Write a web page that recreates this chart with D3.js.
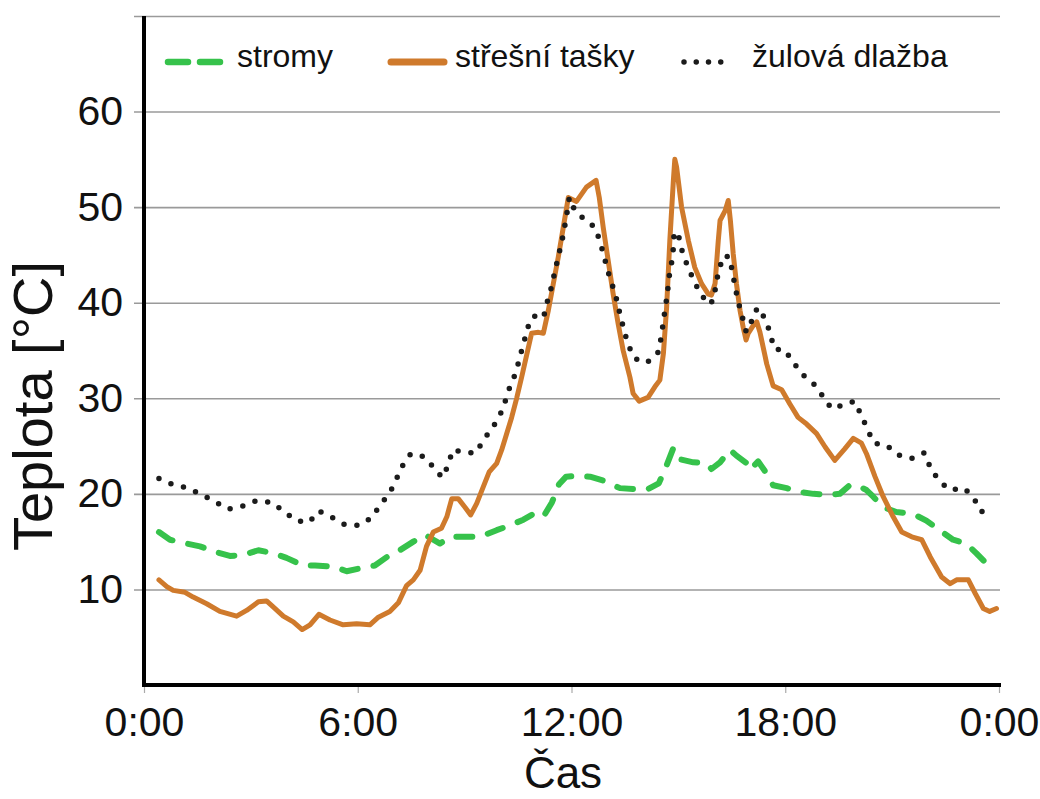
<!DOCTYPE html>
<html>
<head>
<meta charset="utf-8">
<script src="https://cdn.jsdelivr.net/npm/d3@7"></script>
<style>
    body { margin: 0; background: #fff; }
    svg { display: block; font-family: "Liberation Sans", Arial, sans-serif; }
</style>
</head>
<body>
<div id="chart"></div>
<script>
// data: [hodina, teplota]
const stromy = [
    [0.42, 16.0], [0.73, 15.2], [1.20, 14.8], [1.57, 14.5], [2.04, 13.9], [2.41, 13.5], [2.79, 13.6],
    [3.21, 14.1], [3.63, 13.8], [4.00, 13.3], [4.47, 12.5], [4.80, 12.5], [5.31, 12.4], [5.69, 11.9],
    [6.06, 12.2], [6.48, 12.5], [6.86, 13.5], [7.18, 14.1], [7.56, 15.0], [7.89, 15.7], [8.31, 14.8],
    [8.59, 15.5], [9.06, 15.5], [9.43, 15.5], [9.90, 16.2], [10.27, 16.7], [10.65, 17.3], [10.93, 17.9],
    [11.21, 17.6], [11.45, 19.1], [11.65, 21.0], [11.85, 21.8], [12.14, 21.9], [12.52, 21.8], [12.89, 21.4],
    [13.36, 20.6], [13.73, 20.5], [14.15, 20.5], [14.45, 21.1], [14.65, 22.8], [14.86, 24.8], [15.06, 23.6],
    [15.42, 23.3], [15.79, 23.2], [15.93, 22.6], [16.17, 23.3], [16.45, 24.6], [16.63, 24.0], [16.92, 23.2],
    [17.01, 22.5], [17.24, 23.4], [17.48, 22.1], [17.66, 20.9], [18.04, 20.6], [18.41, 20.2], [18.79, 20.0],
    [19.16, 19.9], [19.53, 20.0], [19.81, 20.9], [20.00, 20.9], [20.28, 20.4], [20.47, 19.7], [20.75, 18.6],
    [21.12, 18.1], [21.59, 17.9], [21.96, 17.2], [22.33, 16.2], [22.71, 15.2], [23.08, 14.8], [23.36, 13.8],
    [23.65, 12.7], [23.74, 12.4]
];

const stresniTasky = [
    [0.42, 11.0], [0.64, 10.3], [0.82, 9.9], [1.15, 9.7], [1.38, 9.2], [1.76, 8.5], [2.13, 7.7], [2.60, 7.2],
    [2.88, 7.8], [3.21, 8.7], [3.44, 8.8], [3.68, 8.0], [3.91, 7.2], [4.19, 6.6], [4.44, 5.8], [4.66, 6.3],
    [4.91, 7.4], [5.22, 6.8], [5.59, 6.3], [5.97, 6.4], [6.34, 6.3], [6.58, 7.1], [6.90, 7.7], [7.14, 8.6],
    [7.37, 10.4], [7.56, 11.0], [7.75, 12.0], [7.93, 14.5], [8.12, 16.0], [8.35, 16.4], [8.50, 17.6],
    [8.64, 19.5], [8.82, 19.5], [9.01, 18.6], [9.17, 17.8], [9.34, 19.0], [9.52, 20.7], [9.69, 22.3],
    [9.90, 23.2], [10.04, 24.6], [10.18, 26.3], [10.32, 28.0], [10.46, 30.0], [10.60, 32.2], [10.74, 34.5],
    [10.88, 36.8], [11.07, 36.9], [11.21, 36.8], [11.35, 39.2], [11.49, 42.0], [11.63, 44.8], [11.77, 47.9],
    [11.91, 51.0], [12.14, 50.6], [12.42, 52.1], [12.69, 52.8], [12.78, 51.0], [12.89, 47.9], [13.03, 44.4],
    [13.17, 40.9], [13.31, 37.8], [13.45, 35.0], [13.64, 32.2], [13.73, 30.5], [13.90, 29.7], [14.15, 30.1],
    [14.34, 31.2], [14.48, 31.9], [14.58, 34.7], [14.67, 39.5], [14.76, 46.5], [14.86, 52.8], [14.90, 55.0],
    [14.95, 54.2], [15.09, 50.0], [15.28, 46.5], [15.46, 43.7], [15.65, 42.0], [15.84, 40.9], [15.93, 40.8],
    [16.03, 42.0], [16.12, 46.5], [16.17, 48.6], [16.31, 49.6], [16.40, 50.7], [16.46, 48.6], [16.54, 45.1],
    [16.63, 42.0], [16.73, 39.2], [16.82, 37.4], [16.90, 36.1], [16.96, 36.8], [17.10, 37.6], [17.20, 38.0],
    [17.29, 36.9], [17.48, 33.6], [17.66, 31.3], [17.90, 30.9], [18.13, 29.4], [18.36, 28.0], [18.60, 27.3],
    [18.88, 26.3], [19.12, 24.9], [19.39, 23.5], [19.67, 24.7], [19.91, 25.8], [20.14, 25.3], [20.28, 24.2],
    [20.52, 21.8], [20.75, 19.7], [21.03, 17.6], [21.27, 16.0], [21.55, 15.5], [21.83, 15.2], [22.07, 13.4],
    [22.39, 11.3], [22.63, 10.6], [22.81, 11.0], [23.14, 11.0], [23.33, 9.6], [23.56, 8.0], [23.74, 7.7],
    [23.93, 8.0]
];

const zulovaDlazba = [
    [0.42, 21.6], [0.80, 21.0], [1.23, 20.6], [1.62, 19.9], [1.99, 19.2], [2.36, 18.4], [2.76, 18.7],
    [3.17, 19.3], [3.59, 19.1], [3.91, 18.2], [4.27, 17.2], [4.63, 17.0], [4.91, 18.2], [5.25, 17.6],
    [5.63, 16.8], [6.04, 16.7], [6.39, 17.5], [6.64, 18.9], [6.90, 20.1], [7.09, 21.6], [7.28, 23.1],
    [7.49, 24.2], [7.86, 23.9], [8.10, 22.9], [8.37, 21.7], [8.54, 23.0], [8.66, 24.6], [9.03, 24.3],
    [9.32, 24.3], [9.54, 25.7], [9.78, 26.9], [9.99, 28.2], [10.14, 29.7], [10.27, 31.2], [10.44, 32.7],
    [10.55, 34.3], [10.66, 35.8], [10.77, 37.4], [10.93, 38.6], [11.21, 38.4], [11.32, 40.1], [11.42, 41.4],
    [11.53, 43.2], [11.62, 44.7], [11.73, 46.4], [11.84, 48.6], [11.94, 51.0], [12.10, 49.6], [12.43, 48.5],
    [12.66, 47.9], [12.80, 46.4], [12.91, 44.9], [13.02, 43.3], [13.15, 41.8], [13.27, 40.3], [13.36, 38.8],
    [13.47, 37.2], [13.58, 35.7], [13.76, 34.2], [14.11, 33.7], [14.42, 34.7], [14.52, 36.4], [14.57, 37.8],
    [14.63, 39.4], [14.69, 40.9], [14.74, 42.7], [14.81, 44.2], [14.86, 45.7], [14.88, 47.4], [15.00, 47.1],
    [15.09, 45.6], [15.23, 44.1], [15.40, 42.6], [15.58, 41.2], [15.84, 39.8], [16.00, 40.3], [16.05, 41.9],
    [16.14, 43.4], [16.26, 44.9], [16.43, 44.8], [16.52, 43.2], [16.59, 41.7], [16.68, 40.1], [16.79, 38.6],
    [16.90, 37.0], [16.99, 37.1], [17.10, 38.8], [17.24, 39.5], [17.48, 38.0], [17.59, 36.5], [17.71, 35.1],
    [17.98, 35.1], [18.22, 33.8], [18.48, 32.5], [18.80, 31.5], [19.06, 30.2], [19.30, 28.9], [19.55, 29.2],
    [19.94, 29.7], [20.14, 28.2], [20.30, 26.8], [20.49, 25.3], [20.84, 25.1], [21.15, 24.1], [21.55, 23.7],
    [21.90, 24.3], [22.08, 22.7], [22.31, 21.4], [22.62, 20.4], [23.02, 20.6], [23.29, 19.6], [23.48, 18.2],
    [23.81, 17.8]
];

const xTicks = [0, 6, 12, 18, 24];
const xTickLabels = ['0:00', '6:00', '12:00', '18:00', '0:00'];
const yTicks = [10, 20, 30, 40, 50, 60, 70];
const legendLabels = ['stromy', 'střešní tašky', 'žulová dlažba'];

const draw = () => {
    // dimensions
    const dimensions = {
        width: 1040,
        height: 799,
        margin: {
            top: 16,
            bottom: 114,
            left: 144,
            right: 41,
        }
    }

    dimensions.containerWidth = dimensions.width - dimensions.margin.left - dimensions.margin.right;
    dimensions.containerHeight = dimensions.height - dimensions.margin.top - dimensions.margin.bottom;

    const svg = d3.select('#chart')
        .append('svg')
        .attr('width', dimensions.width)
        .attr('height', dimensions.height);

    const container = svg.append('g')
        .attr('transform', `translate(${dimensions.margin.left}, ${dimensions.margin.top})`);

    // scales
    const xScale = d3.scaleLinear()
        .domain([0, 24])
        .range([0, dimensions.containerWidth]);

    const yScale = d3.scaleLinear()
        .domain([0, 70])
        .range([dimensions.containerHeight, 0]);

    // gridlines + y labels
    const yAxis = d3.axisLeft(yScale)
        .tickValues(yTicks)
        .tickSize(-(dimensions.containerWidth + 11))
        .tickPadding(11)
        .tickFormat(d => d === 70 ? '' : d);

    const yAxisGroup = container.append('g')
        .attr('transform', 'translate(-10, 0)')
        .call(yAxis);

    yAxisGroup.select('.domain').remove();
    yAxisGroup.selectAll('line')
        .attr('stroke', '#9a9a9a')
        .attr('stroke-width', 1.6);
    yAxisGroup.selectAll('text')
        .attr('font-size', 41)
        .attr('font-family', '"Liberation Sans", Arial, sans-serif')
        .attr('fill', '#111');

    // x axis
    const xAxis = d3.axisBottom(xScale)
        .tickValues(xTicks)
        .tickFormat((d, i) => xTickLabels[i])
        .tickSize(8)
        .tickPadding(14);

    const xAxisGroup = container.append('g')
        .attr('transform', `translate(0, ${dimensions.containerHeight})`)
        .call(xAxis);

    xAxisGroup.select('.domain').remove();
    xAxisGroup.selectAll('line')
        .attr('stroke', '#aaa')
        .attr('stroke-width', 1.2);
    xAxisGroup.selectAll('text')
        .attr('font-size', 41)
        .attr('font-family', '"Liberation Sans", Arial, sans-serif')
        .attr('fill', '#111');

    // axis lines
    container.append('line')
        .attr('x1', 0).attr('x2', 0)
        .attr('y1', 0).attr('y2', dimensions.containerHeight + 2)
        .attr('stroke', '#000')
        .attr('stroke-width', 4);

    container.append('line')
        .attr('x1', -2).attr('x2', dimensions.containerWidth + 2)
        .attr('y1', dimensions.containerHeight).attr('y2', dimensions.containerHeight)
        .attr('stroke', '#000')
        .attr('stroke-width', 4);

    // lines
    const lineGenerator = d3.line()
        .x(d => xScale(d[0]))
        .y(d => yScale(d[1]));

    container.append('path')
        .datum(stromy)
        .attr('d', lineGenerator)
        .attr('fill', 'none')
        .attr('stroke', '#36c24b')
        .attr('stroke-width', 6)
        .attr('stroke-linecap', 'round')
        .attr('stroke-linejoin', 'round')
        .attr('stroke-dasharray', '16,16');

    container.append('path')
        .datum(stresniTasky)
        .attr('d', lineGenerator)
        .attr('fill', 'none')
        .attr('stroke', '#cf7a2c')
        .attr('stroke-width', 5)
        .attr('stroke-linecap', 'round')
        .attr('stroke-linejoin', 'round');

    container.append('path')
        .datum(zulovaDlazba)
        .attr('d', lineGenerator)
        .attr('fill', 'none')
        .attr('stroke', '#1b1b1b')
        .attr('stroke-width', 5.5)
        .attr('stroke-linecap', 'round')
        .attr('stroke-linejoin', 'round')
        .attr('stroke-dasharray', '0,13');

    // legend
    const legend = svg.append('g');
    const legendY = 62;

    legend.append('line')
        .attr('x1', 168).attr('x2', 220)
        .attr('y1', legendY).attr('y2', legendY)
        .attr('stroke', '#36c24b')
        .attr('stroke-width', 6.5)
        .attr('stroke-linecap', 'round')
        .attr('stroke-dasharray', '20,12');

    legend.append('line')
        .attr('x1', 391).attr('x2', 444)
        .attr('y1', legendY).attr('y2', legendY)
        .attr('stroke', '#cf7a2c')
        .attr('stroke-width', 7)
        .attr('stroke-linecap', 'round');

    legend.append('line')
        .attr('x1', 684).attr('x2', 733)
        .attr('y1', legendY).attr('y2', legendY)
        .attr('stroke', '#1b1b1b')
        .attr('stroke-width', 5.5)
        .attr('stroke-linecap', 'round')
        .attr('stroke-dasharray', '0,12.25');

    legend.selectAll('text')
        .data(legendLabels)
        .join('text')
        .attr('x', (d, i) => [237, 455, 752][i])
        .attr('y', 67)
        .attr('font-size', 32)
        .attr('fill', '#111')
        .text(d => d);

    // axis titles
    svg.append('text')
        .attr('x', 563)
        .attr('y', 788)
        .attr('text-anchor', 'middle')
        .attr('font-size', 44)
        .attr('fill', '#111')
        .text('Čas');

    svg.append('text')
        .attr('transform', 'translate(52, 406) rotate(-90)')
        .attr('text-anchor', 'middle')
        .attr('font-size', 56)
        .attr('fill', '#111')
        .text('Teplota [°C]');
}

draw();
</script>
</body>
</html>
